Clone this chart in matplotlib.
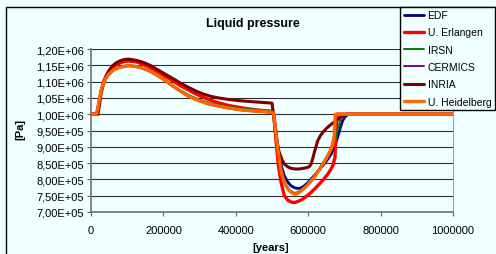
import matplotlib.pyplot as plt
import matplotlib.ticker as mticker
from matplotlib.patches import Rectangle

plt.rcParams['font.family'] = ['Liberation Sans', 'DejaVu Sans']

# === Data ===
series_names = ["EDF", "U. Erlangen", "IRSN", "CERMICS", "INRIA", "U. Heidelberg"]
series_colors = ["#000080", "#FF0000", "#008000", "#800080", "#800000", "#FF6600"]
series_widths = [2.0, 2.4, 1.4, 1.4, 2.2, 2.4]

# rise / decay part shared by the lower group (orange, blue, purple)
rise_t = [0, 15e3, 19e3, 24e3, 28e3, 33e3, 40e3, 47e3, 56e3, 65e3, 75e3, 84e3, 93e3, 102e3, 115e3,
          130e3, 143e3, 157e3, 171e3, 185e3, 199e3, 213e3, 227e3, 240e3, 254e3, 268e3, 290e3,
          310e3, 330e3, 352e3, 375e3, 398e3, 425e3, 450e3, 475e3, 500e3]
rise_p = [1.0e6, 1.0e6, 1.02e6, 1.05e6, 1.072e6, 1.092e6, 1.108e6, 1.120e6, 1.130e6, 1.138e6, 1.142e6, 1.145e6, 1.147e6, 1.149e6, 1.148e6,
          1.145e6, 1.141e6, 1.135e6, 1.127e6, 1.118e6, 1.108e6, 1.097e6, 1.086e6, 1.076e6, 1.066e6, 1.056e6, 1.045e6,
          1.037e6, 1.030e6, 1.025e6, 1.020e6, 1.016e6, 1.012e6, 1.010e6, 1.008e6, 1.006e6]

edf_t = rise_t + [505e3, 512e3, 520e3, 527e3, 534e3, 543e3, 552e3, 561e3, 571e3, 580e3, 589e3, 600e3, 612e3,
                  626e3, 640e3, 652e3, 663e3, 672e3, 681e3, 688e3, 695e3, 704e3, 715e3, 1e6]
edf_p = rise_p + [1.0e6, 0.94e6, 0.872e6, 0.837e6, 0.811e6, 0.793e6, 0.781e6, 0.775e6, 0.772e6, 0.774e6, 0.780e6, 0.791e6, 0.806e6,
                  0.823e6, 0.842e6, 0.859e6, 0.877e6, 0.898e6, 0.928e6, 0.955e6, 0.980e6, 0.995e6, 1.0e6, 1.0e6]

erl_t = [0, 17e3, 21e3, 26e3, 30e3, 35e3, 42e3, 50e3, 60e3, 70e3, 81e3, 93e3, 105e3, 118e3, 130e3,
         142e3, 155e3, 167e3, 180e3, 194e3, 208e3, 222e3, 236e3, 249e3, 268e3, 290e3, 310e3, 330e3,
         352e3, 375e3, 398e3, 425e3, 450e3, 475e3, 500e3,
         505e3, 511e3, 518e3, 525e3, 534e3, 543e3, 552e3, 559e3, 566e3, 575e3, 585e3, 596e3, 608e3,
         620e3, 631e3, 643e3, 654e3, 662e3, 668e3, 674e3, 677e3, 680e3, 1e6]
erl_p = [1.0e6, 1.0e6, 1.025e6, 1.058e6, 1.080e6, 1.100e6, 1.118e6, 1.132e6, 1.144e6, 1.152e6, 1.158e6, 1.162e6, 1.163e6, 1.162e6, 1.159e6,
         1.154e6, 1.148e6, 1.141e6, 1.133e6, 1.124e6, 1.114e6, 1.105e6, 1.095e6, 1.086e6, 1.075e6, 1.062e6, 1.052e6, 1.043e6,
         1.035e6, 1.028e6, 1.023e6, 1.018e6, 1.014e6, 1.011e6, 1.009e6,
         1.0e6, 0.92e6, 0.84e6, 0.791e6, 0.750e6, 0.737e6, 0.731e6, 0.729e6, 0.730e6, 0.734e6, 0.740e6, 0.749e6, 0.760e6,
         0.773e6, 0.786e6, 0.801e6, 0.816e6, 0.830e6, 0.842e6, 0.868e6, 0.95e6, 1.0e6, 1.0e6]

irsn_t = rise_t + [505e3, 510e3, 516e3, 525e3, 534e3, 548e3, 562e3, 575e3, 594e3, 612e3, 631e3,
                   649e3, 663e3, 671e3, 677e3, 683e3, 688e3, 695e3, 1e6]
irsn_p = [p + 0.004e6 if t > 240e3 else p for t, p in zip(rise_t, rise_p)] + \
         [1.0e6, 0.95e6, 0.893e6, 0.829e6, 0.793e6, 0.768e6, 0.758e6, 0.763e6, 0.781e6, 0.803e6, 0.834e6,
          0.866e6, 0.893e6, 0.912e6, 0.934e6, 0.960e6, 0.980e6, 1.0e6, 1.0e6]

cer_t = rise_t + [505e3, 510e3, 516e3, 525e3, 534e3, 548e3, 562e3, 575e3, 594e3, 612e3, 631e3,
                  649e3, 663e3, 672e3, 675e3, 1e6]
cer_p = rise_p + [1.0e6, 0.95e6, 0.893e6, 0.827e6, 0.791e6, 0.765e6, 0.755e6, 0.760e6, 0.778e6, 0.800e6, 0.831e6,
                  0.862e6, 0.893e6, 0.934e6, 1.0e6, 1.0e6]

inria_t = [0, 19e3, 23e3, 28e3, 33e3, 38e3, 45e3, 52e3, 60e3, 70e3, 81e3, 93e3, 102e3, 111e3, 125e3,
           139e3, 153e3, 167e3, 180e3, 194e3, 208e3, 222e3, 236e3, 249e3, 268e3, 290e3, 310e3, 330e3,
           352e3, 375e3, 398e3, 425e3, 450e3, 475e3, 500e3,
           504e3, 508e3, 514e3, 520e3, 527e3, 534e3, 543e3, 552e3, 563e3, 575e3, 587e3, 599e3, 604e3, 608e3,
           612e3, 617e3, 622e3, 626e3, 633e3, 640e3, 649e3, 658e3, 667e3, 677e3, 686e3, 695e3, 705e3, 1e6]
inria_p = [1.0e6, 1.0e6, 1.025e6, 1.064e6, 1.087e6, 1.105e6, 1.124e6, 1.138e6, 1.149e6, 1.158e6, 1.164e6, 1.168e6, 1.169e6, 1.168e6, 1.165e6,
           1.161e6, 1.155e6, 1.148e6, 1.139e6, 1.130e6, 1.121e6, 1.112e6, 1.103e6, 1.094e6, 1.083e6, 1.071e6, 1.062e6, 1.055e6,
           1.050e6, 1.046e6, 1.043e6, 1.040e6, 1.038e6, 1.036e6, 1.034e6,
           1.0e6, 0.96e6, 0.91e6, 0.883e6, 0.862e6, 0.847e6, 0.839e6, 0.834e6, 0.832e6, 0.832e6, 0.834e6, 0.837e6, 0.840e6, 0.847e6,
           0.862e6, 0.883e6, 0.902e6, 0.918e6, 0.933e6, 0.944e6, 0.955e6, 0.964e6, 0.972e6, 0.980e6, 0.988e6, 0.995e6, 1.0e6, 1.0e6]

heid_t = rise_t + [505e3, 510e3, 516e3, 521e3, 525e3, 530e3, 534e3, 541e3, 548e3, 555e3, 562e3, 569e3, 575e3,
                   584e3, 594e3, 603e3, 612e3, 622e3, 631e3, 640e3, 649e3, 656e3, 663e3, 668e3, 672e3, 675e3, 1e6]
heid_p = rise_p + [1.0e6, 0.95e6, 0.893e6, 0.855e6, 0.827e6, 0.806e6, 0.791e6, 0.776e6, 0.765e6, 0.759e6, 0.755e6, 0.756e6, 0.760e6,
                   0.768e6, 0.778e6, 0.789e6, 0.800e6, 0.815e6, 0.831e6, 0.846e6, 0.862e6, 0.876e6, 0.893e6, 0.910e6, 0.934e6, 1.0e6, 1.0e6]

all_t = [edf_t, erl_t, irsn_t, cer_t, inria_t, heid_t]
all_p = [edf_p, erl_p, irsn_p, cer_p, inria_p, heid_p]

y_ticks = [7.0e5, 7.5e5, 8.0e5, 8.5e5, 9.0e5, 9.5e5, 1.0e6, 1.05e6, 1.10e6, 1.15e6, 1.20e6]
x_ticks = [0, 200000, 400000, 600000, 800000, 1000000]

bg = "#F0FFFF"

# === Figure ===
fig = plt.figure(figsize=(4.96, 2.55), dpi=100, facecolor=bg)
ax = fig.add_axes([91 / 496, 1 - 213 / 255, 362 / 496, 163 / 255])
ax.set_facecolor(bg)

for t, p, name, c, lw in zip(all_t, all_p, series_names, series_colors, series_widths):
    ax.plot(t, p, color=c, lw=lw, label=name, solid_joinstyle="round", solid_capstyle="round")

ax.set_xlim(0, 1e6)
ax.set_ylim(7.0e5, 1.2e6)
ax.set_yticks(y_ticks)
ax.set_xticks(x_ticks)
ax.yaxis.set_major_formatter(mticker.FuncFormatter(lambda v, pos: f"{v:.2E}".replace(".", ",")))
ax.xaxis.set_major_formatter(mticker.FuncFormatter(lambda v, pos: f"{int(round(v))}"))
ax.tick_params(labelsize=8, length=3, width=0.8, color="#606060", pad=2)
ax.tick_params(axis="x", pad=6)

ax.grid(True, axis="y", color="#303030", lw=0.8)
ax.set_axisbelow(True)
for side in ["left", "bottom"]:
    ax.spines[side].set_color("#707070")
    ax.spines[side].set_linewidth(1.2)
ax.spines["right"].set_color("#a0a0a0")
ax.spines["top"].set_visible(False)

fig.text(253 / 496, 1 - 24 / 255, "Liquid pressure", fontsize=9, fontweight="bold",
         ha="center", va="center")
fig.text(20 / 496, 1 - 130 / 255, "[Pa]", fontsize=8, fontweight="bold",
         rotation=90, ha="center", va="center")
fig.text(271 / 496, 1 - 248 / 255, "[years]", fontsize=8, fontweight="bold",
         ha="center", va="center")

# chart border
fig.patches.append(Rectangle((6 / 496, -0.1), 1.2, 1.1 - 7.5 / 255, transform=fig.transFigure,
                             fill=False, ec="black", lw=1.0))

leg = fig.legend(loc="upper right", bbox_to_anchor=(495 / 496, 1 - 7.5 / 255), fontsize=7.5,
                 frameon=True, fancybox=False, edgecolor="black", facecolor=bg, framealpha=1,
                 handlelength=2.0, handletextpad=0.3, labelspacing=0.7, borderpad=0.35,
                 borderaxespad=0)
leg.get_frame().set_linewidth(1.0)

plt.savefig("out.png", dpi=100, facecolor=bg)
